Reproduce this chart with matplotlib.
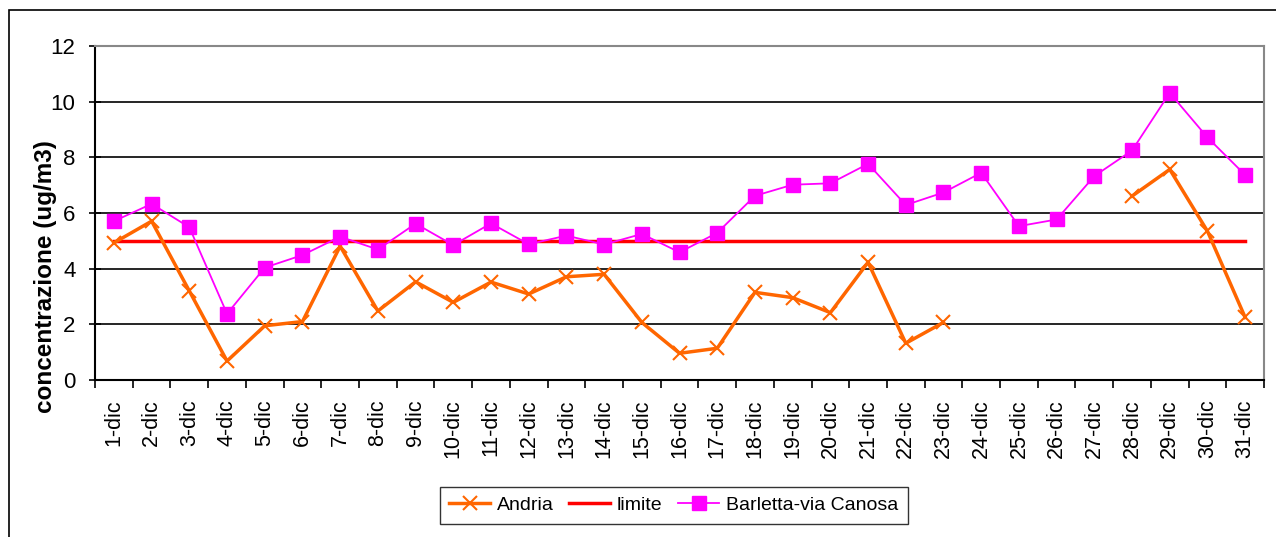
import numpy as np
import matplotlib.pyplot as plt
from matplotlib.patches import Rectangle

plt.rcParams['font.family'] = ['Liberation Sans', 'DejaVu Sans']

days = [f"{d}-dic" for d in range(1, 32)]

andria = [4.93, 5.71, 3.20, 0.68, 1.95, 2.10, 4.81, 2.48, 3.53, 2.79,
          3.52, 3.09, 3.71, 3.80, 2.07, 0.96, 1.14, 3.15, 2.96, 2.42,
          4.23, 1.32, 2.07, np.nan, np.nan, np.nan, np.nan, 6.61, 7.57, 5.35,
          2.25]
barletta = [5.71, 6.33, 5.49, 2.38, 4.04, 4.49, 5.15, 4.69, 5.62, 4.85,
            5.63, 4.88, 5.19, 4.87, 5.25, 4.59, 5.29, 6.62, 7.02, 7.07,
            7.77, 6.29, 6.74, 7.45, 5.53, 5.77, 7.33, 8.25, 10.32, 8.72,
            7.37]
limite = [5] * 31

fig = plt.figure(figsize=(12.76, 5.37), dpi=100)
ax = fig.add_axes([0.0745, 0.2924, 0.9161, 0.6216])

x = np.arange(len(days))
ax.plot(x, andria, color='#ff6600', lw=2.5, marker='x', ms=10.5, mew=1.5,
        label='Andria', zorder=3)
ax.plot(x, limite, color='#ff0000', lw=2.5, label='limite', zorder=2)
ax.plot(x, barletta, color='#ff00ff', lw=1.3, marker='s', ms=10,
        label='Barletta-via Canosa', zorder=4)

ax.set_xlim(-0.5, len(days) - 0.5)
ax.set_ylim(0, 12)
ax.set_yticks(range(0, 13, 2))
ax.yaxis.grid(True, color='black', lw=1.2)
ax.set_axisbelow(True)

ax.set_xticks(x)
ax.set_xticklabels(days, rotation=90, fontsize=15.5)
ax.set_xticks(np.arange(-0.5, len(days)), minor=True)
ax.tick_params(axis='x', which='major', length=0, pad=14)
ax.tick_params(axis='x', which='minor', length=6, width=1.2, direction='out')
ax.tick_params(axis='y', length=8, width=1.2, direction='inout', labelsize=16, pad=10)

for s in ['left', 'bottom']:
    ax.spines[s].set_linewidth(1.5)
for s in ['top', 'right']:
    ax.spines[s].set_color('#888888')
    ax.spines[s].set_linewidth(1.5)

ax.set_ylabel('concentrazione (ug/m3)', fontsize=17.5, fontweight='bold')
ax.yaxis.set_label_coords(-0.0325, 0.311)

leg = ax.legend(loc='upper center', bbox_to_anchor=(0.495, -0.29), ncol=3,
                frameon=True, fancybox=False, edgecolor='black', fontsize=14,
                handlelength=2.1, handletextpad=0.35, columnspacing=0.8,
                borderpad=0.5)
leg.get_frame().set_linewidth(1.0)

fig.patches.append(Rectangle((9 / 1276, -0.1), 1.2, 1 - 10 / 537 + 0.1,
                             transform=fig.transFigure, fill=False,
                             edgecolor='black', lw=1.2))

fig.savefig('out.png', dpi=100)
